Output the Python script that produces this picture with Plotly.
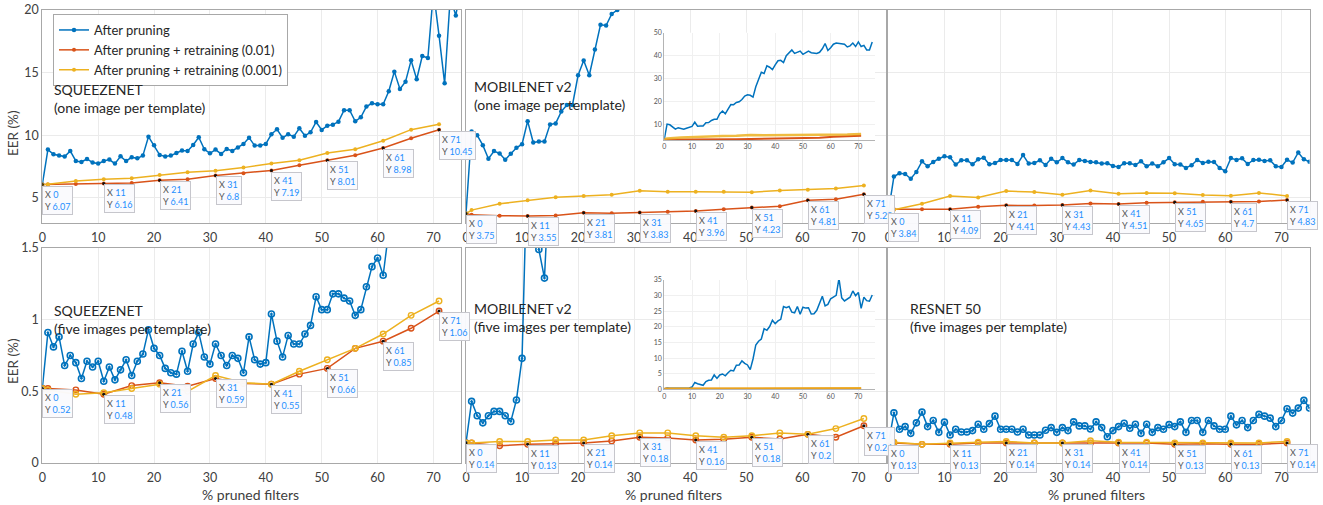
import plotly.graph_objects as go

# ---------------------------------------------------------------- data
pruned_all = list(range(76))                      # % pruned filters, after pruning
pruned_retrain = [0, 1, 6, 11, 16, 21, 26, 31, 36, 41, 46, 51, 56, 61, 66, 71]
tip_x = [0, 11, 21, 31, 41, 51, 61, 71]           # points annotated with X/Y tips

# SqueezeNet, one image per template
sq1_prune = [6.07, 8.86, 8.48, 8.38, 8.30, 8.75, 7.95, 7.87, 8.11, 7.82,
             7.74, 7.95, 8.06, 7.74, 8.32, 7.95, 8.24, 8.16, 8.38, 9.89,
             9.20, 8.43, 8.30, 8.38, 8.59, 8.78, 8.75, 9.23, 9.84, 8.88,
             8.56, 8.86, 8.51, 8.91, 8.75, 9.02, 9.31, 9.81, 9.18, 9.18,
             9.31, 10.08, 10.48, 9.81, 10.08, 9.89, 10.56, 9.97, 10.24, 11.06,
             10.43, 10.77, 10.85, 11.09, 12.0, 12.0, 11.12, 11.44, 12.29, 12.55,
             12.47, 12.47, 13.51, 15.08, 13.70, 14.28, 15.98, 14.47, 16.33, 16.17,
             21.5, 17.95, 14.15, 21.0, 19.57, 22.0]
sq1_rt01 = [6.07, 6.08, 6.12, 6.16, 6.20, 6.41, 6.49, 6.8, 6.97, 7.19,
            7.61, 8.01, 8.40, 8.98, 9.76, 10.45]
sq1_rt001 = [6.07, 6.10, 6.35, 6.49, 6.57, 6.84, 7.05, 7.18, 7.42, 7.74,
             8.00, 8.59, 8.88, 9.57, 10.45, 10.88]

# MobileNet v2, one image per template
mb1_prune = [3.75, 10.3, 10.0, 9.21, 8.13, 8.74, 8.55, 8.05, 8.53, 9.0,
             9.29, 11.13, 9.42, 9.5, 9.5, 10.87, 10.95, 11.89, 12.42, 12.42,
             14.79, 15.97, 14.79, 16.84, 18.82, 18.76, 19.68, 20.0, 21.0, 22.5,
             23.0, 22.8, 22.0, 26.5, 30.0, 32.8, 32.3, 35.6, 35.0, 34.0,
             36.0, 37.8, 38.0, 37.0, 40.0, 41.5, 42.5, 41.0, 41.5, 42.0,
             40.6, 41.5, 42.0, 41.3, 41.0, 41.0, 41.5, 43.0, 45.3, 42.3,
             43.5, 45.0, 45.5, 45.3, 45.3, 45.0, 43.8, 44.3, 45.5, 44.0,
             46.0, 44.0, 44.5, 42.5, 42.5, 46.0]
mb1_rt01 = [3.75, 3.65, 3.58, 3.55, 3.60, 3.81, 3.78, 3.83, 3.90, 3.96,
            4.10, 4.23, 4.34, 4.81, 4.90, 5.29]
mb1_rt001 = [3.75, 4.03, 4.53, 4.82, 5.05, 5.16, 5.26, 5.58, 5.50, 5.50,
             5.50, 5.45, 5.60, 5.66, 5.76, 6.00]

# third network, one image per template
rn1_prune = [3.84, 6.71, 6.97, 6.92, 6.53, 7.08, 7.92, 7.53, 7.87, 8.13,
             8.32, 8.24, 7.66, 8.0, 8.0, 7.68, 8.08, 8.21, 7.68, 7.79,
             8.03, 8.03, 8.03, 7.71, 8.42, 7.74, 7.79, 8.0, 7.63, 8.13,
             7.84, 8.18, 7.84, 7.66, 8.03, 7.95, 7.87, 7.84, 7.74, 7.76,
             7.55, 7.47, 7.76, 7.76, 7.63, 7.92, 7.53, 7.74, 7.53, 7.84,
             8.18, 7.68, 7.66, 7.39, 7.61, 8.03, 7.79, 7.89, 7.87, 7.39,
             7.13, 8.18, 8.03, 8.16, 7.71, 8.03, 8.05, 7.95, 8.0, 7.53,
             7.47, 8.05, 7.82, 8.63, 8.08, 7.89]
rn1_rt01 = [3.84, 4.10, 4.10, 4.09, 4.30, 4.41, 4.40, 4.43, 4.55, 4.51,
            4.62, 4.65, 4.70, 4.7, 4.72, 4.83]
rn1_rt001 = [3.84, 4.05, 4.53, 5.16, 5.03, 5.55, 5.47, 5.26, 5.60, 5.34,
             5.40, 5.37, 5.24, 5.18, 5.40, 5.16]

# SqueezeNet, five images per template
sq5_prune = [0.52, 0.91, 0.81, 0.88, 0.68, 0.75, 0.70, 0.59, 0.71, 0.67,
             0.71, 0.57, 0.67, 0.58, 0.65, 0.72, 0.61, 0.71, 0.76, 0.93,
             0.80, 0.75, 0.66, 0.63, 0.62, 0.78, 0.64, 0.83, 0.91, 0.74,
             0.69, 0.83, 0.75, 0.68, 0.75, 0.73, 0.63, 0.88, 0.72, 0.69,
             0.70, 1.04, 0.85, 0.74, 0.89, 0.83, 0.83, 0.90, 0.96, 1.16,
             1.07, 1.07, 1.18, 1.18, 1.15, 1.13, 1.03, 1.07, 1.23, 1.37,
             1.43, 1.31, 1.62]
sq5_rt01 = [0.52, 0.52, 0.51, 0.48, 0.54, 0.56, 0.535, 0.59, 0.555, 0.55,
            0.62, 0.66, 0.80, 0.85, 0.94, 1.06]
sq5_rt001 = [0.52, 0.51, 0.48, 0.49, 0.52, 0.55, 0.50, 0.61, 0.56, 0.55,
             0.64, 0.72, 0.80, 0.90, 1.03, 1.13]

# MobileNet v2, five images per template
mb5_prune = [0.14, 0.43, 0.33, 0.28, 0.33, 0.36, 0.36, 0.33, 0.29, 0.44,
             0.73, 2.2, 1.8, 1.49, 1.29, 2.5, 2.9, 3.0, 4.6, 3.5,
             4.6, 4.9, 4.3, 5.3, 6.1, 5.9, 7.7, 7.8, 9.1, 8.3,
             7.8, 6.3, 9.7, 14.2, 15.4, 16.1, 19.4, 18.9, 20.1, 22.1,
             21.0, 21.9, 22.4, 26.5, 26.1, 26.5, 24.7, 24.5, 26.5, 24.0,
             26.3, 26.0, 26.1, 24.1, 24.2, 25.3, 27.5, 29.8, 26.7, 27.2,
             29.0, 29.7, 30.1, 35.5, 29.3, 28.3, 28.8, 29.5, 31.5, 30.0,
             31.0, 25.9, 29.5, 28.4, 28.2, 30.2]
mb5_rt01 = [0.14, 0.14, 0.12, 0.13, 0.134, 0.14, 0.153, 0.18, 0.175, 0.16,
            0.165, 0.18, 0.167, 0.2, 0.18, 0.26]
mb5_rt001 = [0.14, 0.14, 0.15, 0.15, 0.16, 0.16, 0.19, 0.21, 0.21, 0.19,
             0.18, 0.19, 0.21, 0.20, 0.24, 0.31]

# ResNet 50, five images per template
rn5_prune = [0.13, 0.35, 0.235, 0.254, 0.207, 0.28, 0.355, 0.254, 0.296, 0.214,
             0.285, 0.195, 0.235, 0.216, 0.216, 0.226, 0.27, 0.235, 0.275, 0.327,
             0.235, 0.235, 0.235, 0.216, 0.235, 0.195, 0.195, 0.195, 0.228, 0.247,
             0.214, 0.247, 0.226, 0.287, 0.259, 0.259, 0.237, 0.287, 0.247, 0.183,
             0.226, 0.254, 0.277, 0.242, 0.27, 0.207, 0.27, 0.214, 0.247, 0.235,
             0.268, 0.254, 0.287, 0.214, 0.296, 0.296, 0.214, 0.296, 0.259, 0.235,
             0.235, 0.327, 0.266, 0.296, 0.247, 0.296, 0.339, 0.327, 0.313, 0.254,
             0.296, 0.379, 0.348, 0.383, 0.437, 0.383]
rn5_rt01 = [0.13, 0.14, 0.13, 0.13, 0.14, 0.14, 0.14, 0.14, 0.14, 0.14,
            0.14, 0.13, 0.135, 0.13, 0.13, 0.14]
rn5_rt001 = [0.13, 0.145, 0.13, 0.14, 0.145, 0.15, 0.14, 0.14, 0.155, 0.145,
             0.145, 0.14, 0.14, 0.14, 0.14, 0.15]

series_names = ["After pruning",
                "After pruning + retraining (0.01)",
                "After pruning + retraining (0.001)"]

panel_titles = ["SQUEEZENET<br>(one image per template)",
                "MOBILENET v2<br>(one image per template)",
                "",
                "SQUEEZENET<br>(five images per template)",
                "MOBILENET v2<br>(five images per template)",
                "RESNET 50<br>(five images per template)"]

y_title = "EER (%)"
x_title = "% pruned filters"

x_ticks = [0, 10, 20, 30, 40, 50, 60, 70]
top_y_ticks = [5, 10, 15, 20]
bottom_y_ticks = [0, 0.5, 1, 1.5]
inset_top_y_ticks = [10, 20, 30, 40, 50]
inset_bottom_y_ticks = [0, 5, 10, 15, 20, 25, 30, 35]

panels = [
    (sq1_prune, sq1_rt01, sq1_rt001),
    (mb1_prune, mb1_rt01, mb1_rt001),
    (rn1_prune, rn1_rt01, rn1_rt001),
    (sq5_prune, sq5_rt01, sq5_rt001),
    (mb5_prune, mb5_rt01, mb5_rt001),
    (rn5_prune, rn5_rt01, rn5_rt001),
]

# ---------------------------------------------------------------- style
W, H = 1323, 505
FONT = "Lato"
BLUE, RED, YELLOW = "#0072BD", "#D95319", "#EDB120"
TEXT = "#262626"
TICK = "#404040"
GRID = "#ebebeb"
FRAME = "#a8a8a8"
TIP_BLUE = "#1e8fff"


def fx(p):
    return p / W


def fy(p):
    return 1 - p / H


col_px = [(42.3, 461.4), (466.0, 886.3), (888.3, 1309.5)]
row_px = [(10.0, 223.0), (248.0, 463.0)]


def ax_id(k):
    return "" if k == 1 else str(k)


fig = go.Figure()
layout = {}
annotations = []

for k, (prune, rt01, rt001) in enumerate(panels, start=1):
    r, c = divmod(k - 1, 3)
    xa, ya = "x" + ax_id(k), "y" + ax_id(k)
    top = r == 0
    x0, x1 = col_px[c]
    y0, y1 = row_px[r]

    layout["xaxis" + ax_id(k)] = dict(
        domain=[fx(x0), fx(x1)], range=[0, 75], anchor=ya, automargin=False,
        tickvals=x_ticks, showgrid=True, gridcolor=GRID, zeroline=False,
        showline=True, linecolor=FRAME, linewidth=1, mirror=True,
        ticks="", ticklabelstandoff=3,
        tickfont=dict(family=FONT, size=12.5, color=TICK))
    layout["yaxis" + ax_id(k)] = dict(
        domain=[fy(y1), fy(y0)], anchor=xa, automargin=False,
        range=[3, 20] if top else [0, 1.5],
        tickvals=top_y_ticks if top else bottom_y_ticks,
        showticklabels=(c == 0), showgrid=True, gridcolor=GRID, zeroline=False,
        showline=True, linecolor=FRAME, linewidth=1, mirror=True,
        ticks="", tickfont=dict(family=FONT, size=12.5, color=TICK))

    if top:
        m_blue = dict(symbol="circle", size=4.5, color=BLUE)
        m_red = dict(symbol="circle", size=4, color=RED)
        m_yel = dict(symbol="circle", size=4, color=YELLOW)
    else:
        m_blue = dict(symbol="circle-open-dot", size=6, color=BLUE,
                      line=dict(width=1.6, color=BLUE))
        m_red = dict(symbol="circle-open", size=5.5, color=RED,
                     line=dict(width=1.4, color=RED))
        m_yel = dict(symbol="circle-open", size=5.5, color=YELLOW,
                     line=dict(width=1.4, color=YELLOW))

    show = k == 1
    fig.add_trace(go.Scatter(x=pruned_all[:len(prune)], y=prune, xaxis=xa, yaxis=ya,
                             mode="lines+markers", name=series_names[0],
                             line=dict(color=BLUE, width=1.5), marker=m_blue,
                             showlegend=show, legendrank=1))
    fig.add_trace(go.Scatter(x=pruned_retrain, y=rt01, xaxis=xa, yaxis=ya,
                             mode="lines+markers", name=series_names[1],
                             line=dict(color=RED, width=1.5), marker=m_red,
                             showlegend=show, legendrank=2))
    fig.add_trace(go.Scatter(x=pruned_retrain, y=rt001, xaxis=xa, yaxis=ya,
                             mode="lines+markers", name=series_names[2],
                             line=dict(color=YELLOW, width=1.5), marker=m_yel,
                             showlegend=show, legendrank=3))

    # data-tip points (on the 0.01 retraining curve)
    tip_y = [rt01[pruned_retrain.index(v)] for v in tip_x]
    fig.add_trace(go.Scatter(x=tip_x, y=tip_y, xaxis=xa, yaxis=ya, mode="markers",
                             marker=dict(size=3, color="#111111"),
                             showlegend=False, hoverinfo="skip"))
    for xv, yv in zip(tip_x, tip_y):
        annotations.append(dict(
            xref=xa, yref=ya, x=xv, y=yv, xanchor="left", yanchor="top",
            xshift=0, yshift=-1, showarrow=False, align="left",
            text=(f"<span style='color:#555555'>X</span> "
                  f"<span style='color:{TIP_BLUE}'>{xv}</span><br>"
                  f"<span style='color:#555555'>Y</span> "
                  f"<span style='color:{TIP_BLUE}'>{yv:g}</span>"),
            font=dict(family=FONT, size=9),
            bgcolor="rgba(250,250,253,0.97)", bordercolor="#c6c6cc",
            borderwidth=1, borderpad=2))

# ---------------------------------------------------------------- insets
insets = [
    dict(k=7, src=panels[1], ypx=(32.7, 140.0), yr=[3.4, 50], yt=inset_top_y_ticks),
    dict(k=8, src=panels[4], ypx=(280.0, 389.3), yr=[0, 35], yt=inset_bottom_y_ticks),
]
for ins in insets:
    k = ins["k"]
    xa, ya = "x" + ax_id(k), "y" + ax_id(k)
    prune, rt01, rt001 = ins["src"]
    layout["xaxis" + ax_id(k)] = dict(
        domain=[fx(664.3), fx(875.0)], range=[0, 76], anchor=ya, automargin=False,
        tickvals=x_ticks, showgrid=True, gridcolor="#f0f0f0", zeroline=False,
        showline=True, linecolor="#b4b4b4", linewidth=1, ticks="",
        tickfont=dict(family=FONT, size=7, color="#555555"))
    layout["yaxis" + ax_id(k)] = dict(
        domain=[fy(ins["ypx"][1]), fy(ins["ypx"][0])], range=ins["yr"], anchor=xa,
        automargin=False,
        tickvals=ins["yt"], showgrid=True, gridcolor="#f0f0f0", zeroline=False,
        showline=True, linecolor="#b4b4b4", linewidth=1, ticks="",
        tickfont=dict(family=FONT, size=7, color="#555555"))
    fig.add_trace(go.Scatter(x=pruned_all[:len(prune)], y=prune, xaxis=xa, yaxis=ya,
                             mode="lines", line=dict(color=BLUE, width=1.5),
                             showlegend=False))
    fig.add_trace(go.Scatter(x=pruned_retrain, y=rt01, xaxis=xa, yaxis=ya,
                             mode="lines", line=dict(color=RED, width=2),
                             showlegend=False))
    fig.add_trace(go.Scatter(x=pruned_retrain, y=rt001, xaxis=xa, yaxis=ya,
                             mode="lines", line=dict(color=YELLOW, width=2.5),
                             opacity=0.85, showlegend=False))

# ---------------------------------------------------------------- text
title_pos = [(51.5, 98.5), (471.5, 96.0), None, (51.5, 319.0), (471.5, 317.5), (908.0, 317.5)]
for txt, pos in zip(panel_titles, title_pos):
    if not txt:
        continue
    annotations.append(dict(xref="paper", yref="paper", x=fx(pos[0]), y=fy(pos[1]),
                            xanchor="left", yanchor="middle", align="left",
                            showarrow=False, text=txt,
                            font=dict(family=FONT, size=14, color=TEXT)))

for cy in (133.0, 361.0):
    annotations.append(dict(xref="paper", yref="paper", x=fx(13.0), y=fy(cy),
                            xanchor="center", yanchor="middle", textangle=-90,
                            showarrow=False, text=y_title,
                            font=dict(family=FONT, size=13.5, color=TICK)))

for cx in (250.3, 673.3, 1096.7):
    annotations.append(dict(xref="paper", yref="paper", x=fx(cx), y=fy(494.0),
                            xanchor="center", yanchor="middle",
                            showarrow=False, text=x_title,
                            font=dict(family=FONT, size=14, color=TICK)))

fig.update_layout(
    width=W, height=H, margin=dict(l=0, r=0, t=0, b=0, autoexpand=False),
    paper_bgcolor="white", plot_bgcolor="white",
    font=dict(family=FONT, color=TEXT),
    legend=dict(x=fx(53.0), y=fy(14.0), xanchor="left", yanchor="top",
                bgcolor="white", bordercolor="#a8a8a8", borderwidth=1,
                font=dict(family=FONT, size=13, color=TEXT),
                itemwidth=30, tracegroupgap=0),
    annotations=annotations,
    **layout,
)

fig.write_html("out.html")
